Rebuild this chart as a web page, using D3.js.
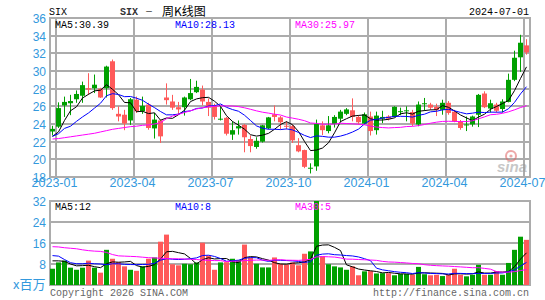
<!DOCTYPE html>
<html>
<head>
<meta charset="utf-8">
<script src="https://cdn.jsdelivr.net/npm/d3@7"></script>
<style>
  html, body { margin: 0; padding: 0; background: #fff; }
  svg { display: block; }
</style>
</head>
<body>
<svg id="chart" width="545" height="300"></svg>
<script>
// SIX weekly K-line, weeks 2022-12-26 .. 2024-07-01 (80 candles)
const open = [23.15, 23.7, 26.1, 26.35, 26.8, 27.2, 28.05, 28.05, 28.0, 28.05,
  31.1, 25.15, 25.05, 24.4, 26.75, 25.45, 26.2, 23.5, 24.4, 27.0,
  26.55, 25.9, 25.9, 26.8, 27.6, 27.9, 26.5, 26.1, 24.5, 24.7,
  22.8, 23.5, 23.9, 22.3, 21.4, 22.0, 23.5, 25.1, 24.75, 23.8,
  23.75, 21.6, 21.05, 19.0, 19.2, 23.85, 23.2, 24.0, 24.6, 25.15,
  25.55, 24.8, 24.05, 24.85, 23.3, 24.6, 24.85, 24.8, 25.4, 25.5,
  25.35, 23.95, 26.25, 26.2, 25.95, 25.6, 26.4, 25.4, 24.25, 23.9,
  23.95, 25.05, 27.45, 25.75, 26.2, 25.7, 26.5, 29.0, 31.55, 32.9];
const high = [23.8, 26.45, 27.1, 27.3, 27.8, 28.8, 29.75, 29.6, 28.1, 30.6,
  31.3, 26.0, 25.6, 26.95, 27.1, 27.1, 26.4, 25.25, 24.5, 28.6,
  27.3, 26.5, 27.1, 29.1, 28.9, 28.35, 26.9, 26.3, 26.0, 24.8,
  24.3, 24.4, 24.0, 22.7, 22.5, 23.9, 24.8, 26.1, 24.9, 24.3,
  23.9, 22.4, 21.1, 19.55, 24.5, 24.3, 24.9, 25.0, 25.6, 25.8,
  26.9, 25.0, 25.3, 25.4, 25.4, 25.5, 25.0, 26.0, 25.85, 26.0,
  25.6, 26.55, 26.95, 26.4, 26.3, 26.75, 26.6, 25.6, 24.45, 24.85,
  24.95, 27.4, 27.7, 26.75, 26.4, 26.8, 29.7, 32.3, 34.1, 33.6];
const low = [22.7, 23.55, 24.8, 25.0, 26.4, 26.4, 27.3, 27.5, 26.95, 27.0,
  25.6, 24.3, 23.3, 23.9, 25.25, 25.15, 23.35, 22.35, 21.85, 26.2,
  25.6, 25.1, 24.95, 26.7, 27.5, 26.1, 24.9, 24.5, 24.4, 22.7,
  22.2, 22.8, 20.8, 20.8, 21.2, 21.9, 23.4, 24.3, 23.4, 23.4,
  21.85, 20.8, 19.0, 18.4, 18.7, 22.75, 22.95, 23.6, 24.2, 25.0,
  24.3, 23.95, 23.95, 22.7, 22.8, 24.1, 24.4, 24.75, 25.0, 24.3,
  23.75, 23.75, 25.5, 25.6, 24.9, 25.05, 25.05, 24.2, 23.35, 23.2,
  23.7, 23.65, 25.8, 25.3, 25.3, 25.3, 26.45, 28.85, 29.9, 31.85];
const close = [23.45, 25.8, 26.5, 26.6, 27.4, 28.4, 27.9, 28.45, 27.0, 30.5,
  25.8, 24.85, 24.05, 26.8, 25.45, 26.05, 23.55, 24.5, 22.6, 26.7,
  25.85, 25.65, 27.0, 27.5, 28.2, 26.55, 25.85, 24.8, 24.6, 22.9,
  23.3, 23.75, 22.5, 21.5, 22.1, 23.85, 24.75, 24.8, 24.2, 23.7,
  22.15, 20.9, 19.15, 19.05, 24.0, 23.3, 23.85, 24.8, 25.4, 25.65,
  24.8, 24.2, 25.1, 23.2, 24.95, 24.8, 24.6, 25.95, 25.45, 25.55,
  24.05, 26.2, 26.35, 25.85, 25.6, 26.4, 25.25, 24.3, 23.55, 23.95,
  24.85, 27.3, 25.9, 26.35, 25.5, 26.55, 29.0, 31.5, 33.2, 32.1];
// volume, millions
const volume = [6.2, 8.6, 9.3, 6.6, 5.8, 6.6, 9.3, 6.6, 4.7, 13.4,
  10.0, 8.7, 7.1, 5.8, 5.4, 7.1, 10.0, 10.5, 16.5, 19.2,
  7.9, 7.5, 8.1, 7.9, 8.6, 16.1, 11.2, 5.8, 8.6, 8.7,
  10.0, 9.5, 15.4, 10.5, 8.1, 6.7, 6.7, 10.5, 8.0, 7.8,
  8.6, 7.5, 11.9, 12.8, 33, 10.9, 7.9, 7.1, 6.7, 5.8,
  7.1, 3.7, 5.2, 5.3, 4.4, 4.5, 4.5, 3.7, 4.2, 4.2,
  3.9, 6.9, 4.1, 3.7, 3.9, 3.4, 4.0, 6.2, 3.9, 3.3,
  3.9, 7.7, 3.9, 3.9, 5.3, 3.9, 8.4, 13.4, 18.4, 17.2];

// moving averages before enough weeks are on the chart
const ma5Head = [22.6, 23.1, 24.4, 25.5];
const ma10Head = [22.6, 22.9, 23.5, 23.75, 24.3, 24.8, 25.25, 25.8, 26.35];
const ma30Head = [22.3, 22.35, 22.45, 22.55, 22.65, 22.75, 22.85, 22.95, 23.1, 23.25,
  23.4, 23.5, 23.6, 23.7, 23.75, 23.85, 23.9, 24.0, 24.15, 24.6,
  24.9, 25.1, 25.3, 25.5, 25.7, 25.85, 25.95, 26.0, 26.05];
const vma5Head = [9.2, 9.2, 9.0, 8.0];
const vma10Head = [11.2, 11.0, 9.7, 8.5, 8.1, 8.1, 8.3, 8.1, 8.0];
const vma30Head = [14.6, 14.5, 14.2, 14.0, 13.8, 13.4, 13.1, 12.9, 12.8, 12.4,
  11.6, 11.1, 11.0, 10.9, 10.8, 10.6, 10.4, 10.3, 10.2, 10.1,
  10.0, 10.0, 9.9, 9.8, 9.7, 9.5, 9.4, 9.3, 9.3];

const quarterTicks = ['2023-01', '2023-04', '2023-07', '2023-10', '2024-01', '2024-04', '2024-07'];
const priceTicks = [18, 20, 22, 24, 26, 28, 30, 32, 34, 36];
const volTicks = [8, 16, 24, 32];
const maLabels = ['MA5:30.39', 'MA10:28.13', 'MA30:25.97'];
const vmaLabels = ['MA5:12', 'MA10:8', 'MA30:5'];

const GREEN = '#00a000', RED = '#ff5a5a', GRID = '#acacac', AXIS = '#3399dd';
const MONO = '"Liberation Mono", "DejaVu Sans Mono", monospace';
const CJK = '"Noto Sans CJK SC", sans-serif';
const maColors = ['#000000', '#0000ff', '#ff00ff'];

const svg = d3.select('#chart');
const fmt = d3.timeFormat('%Y-%m');
const weeks = d3.timeMonday.range(new Date(2022, 11, 26), new Date(2024, 6, 2));
const n = close.length;

const x = d3.scaleLinear().domain([0, n]).range([50, 530]);
const y = d3.scaleLinear().domain([18, 36]).range([177, 18]);
const yv = d3.scaleLinear().domain([0, 32]).range([285, 201]);
const cx = i => x(i) + 2.5;
const isUp = i => close[i] >= open[i];

function movingAvg(vals, len, head) {
  return vals.map((v, i) => i < len - 1 ? head[i] : d3.mean(vals.slice(i - len + 1, i + 1)));
}

svg.append('rect').attr('width', 545).attr('height', 300).attr('fill', '#fff');

const defs = svg.append('defs');
defs.append('clipPath').attr('id', 'clipMain').append('rect')
  .attr('x', 50).attr('y', 18).attr('width', 480).attr('height', 159);
defs.append('clipPath').attr('id', 'clipVol').append('rect')
  .attr('x', 50).attr('y', 201).attr('width', 480).attr('height', 84);

// ---- main panel grid
const qIdx = quarterTicks.map(q => weeks.findIndex(w => fmt(w) === q));
const grid = svg.append('g').attr('stroke', GRID).attr('stroke-width', 2);
priceTicks.forEach(t => {
  grid.append('line').attr('x1', 49).attr('x2', 531)
    .attr('y1', Math.round(y(t))).attr('y2', Math.round(y(t)));
});
qIdx.forEach(i => {
  grid.append('line').attr('x1', x(i)).attr('x2', x(i)).attr('y1', 18).attr('y2', 177);
});
[50, 530].forEach(v => grid.append('line').attr('x1', v).attr('x2', v).attr('y1', 17).attr('y2', 178));

// volume grid
volTicks.concat([0]).forEach(t => {
  grid.append('line').attr('x1', 49).attr('x2', 531)
    .attr('y1', Math.round(yv(t))).attr('y2', Math.round(yv(t)));
});
[50, 530].forEach(v => grid.append('line').attr('x1', v).attr('x2', v).attr('y1', 200).attr('y2', 286));

// ---- candles
const candles = svg.append('g').attr('clip-path', 'url(#clipMain)');
d3.range(n).forEach(i => {
  const col = isUp(i) ? GREEN : RED;
  candles.append('line')
    .attr('x1', Math.floor(x(i)) + 2.5).attr('x2', Math.floor(x(i)) + 2.5)
    .attr('y1', y(high[i])).attr('y2', y(low[i]))
    .attr('stroke', col).attr('stroke-width', 1);
  const top = y(Math.max(open[i], close[i]));
  const bot = y(Math.min(open[i], close[i]));
  candles.append('rect')
    .attr('x', x(i)).attr('width', 5)
    .attr('y', top).attr('height', Math.max(1, bot - top))
    .attr('fill', col);
});

// price MAs
const priceMAs = [movingAvg(close, 5, ma5Head), movingAvg(close, 10, ma10Head), movingAvg(close, 30, ma30Head)];
const lineP = d3.line().x((d, i) => cx(i)).y(d => y(d));
priceMAs.forEach((ma, k) => {
  candles.append('path').attr('d', lineP(ma))
    .attr('fill', 'none').attr('stroke', maColors[k]).attr('stroke-width', 1);
});

// ---- volume bars
const vol = svg.append('g').attr('clip-path', 'url(#clipVol)');
vol.selectAll('rect').data(volume).join('rect')
  .attr('x', (d, i) => x(i)).attr('width', 5)
  .attr('y', d => yv(d)).attr('height', d => yv(0) - yv(d))
  .attr('fill', (d, i) => isUp(i) ? GREEN : RED);

const volMAs = [movingAvg(volume, 5, vma5Head), movingAvg(volume, 10, vma10Head), movingAvg(volume, 30, vma30Head)];
const lineV = d3.line().x((d, i) => cx(i)).y(d => yv(d));
volMAs.forEach((ma, k) => {
  vol.append('path').attr('d', lineV(ma))
    .attr('fill', 'none').attr('stroke', maColors[k]).attr('stroke-width', 1);
});

// ---- sina watermark
const logo = svg.append('g').attr('opacity', 0.55);
logo.append('circle').attr('cx', 511).attr('cy', 156).attr('r', 5)
  .attr('fill', 'none').attr('stroke', '#e06060').attr('stroke-width', 2);
logo.append('circle').attr('cx', 511).attr('cy', 156).attr('r', 1.6).attr('fill', '#e06060');
logo.append('text').attr('x', 497).attr('y', 172)
  .style('font-family', '"Liberation Sans", Arial, sans-serif')
  .style('font-size', '15px').style('font-weight', 'bold').style('font-style', 'italic')
  .attr('fill', '#9a9a9a').text('sina');

// ---- axis labels
const axisText = svg.append('g')
  .style('font-family', '"Liberation Sans", Arial, sans-serif')
  .style('font-size', '12px').attr('fill', AXIS);
priceTicks.forEach(t => {
  axisText.append('text').attr('x', 46).attr('y', Math.round(y(t)) + 4.5)
    .attr('text-anchor', 'end').text(t);
});
quarterTicks.forEach((q, k) => {
  axisText.append('text').attr('x', x(qIdx[k]) - 1.5).attr('y', 187)
    .attr('text-anchor', 'middle').style('font-size', '12.5px').text(q);
});
volTicks.forEach(t => {
  axisText.append('text').attr('x', 46).attr('y', Math.round(yv(t)) + 4.5)
    .attr('text-anchor', 'end').text(t);
});
axisText.append('text').attr('x', 13).attr('y', 289)
  .style('font-family', CJK).style('font-size', '13px').text('x百万');

// ---- header and MA legends
const mono = svg.append('g').style('font-family', MONO).style('font-size', '10px');
mono.append('text').attr('x', 49).attr('y', 15).attr('fill', '#000').text('SIX');
mono.append('text').attr('x', 529).attr('y', 15).attr('text-anchor', 'end').attr('fill', '#000').text('2024-07-01');
mono.append('text').attr('x', 120).attr('y', 15).attr('fill', '#333').style('font-weight', 'bold').text('SIX');
svg.append('text').attr('x', 145).attr('y', 14).style('font-family', CJK).style('font-size', '8px')
  .attr('fill', '#000').text('－');
svg.append('text').attr('x', 162).attr('y', 15.5).style('font-family', CJK).style('font-size', '12px')
  .attr('fill', '#000').text('周K线图');

maLabels.forEach((s, k) => {
  mono.append('text').attr('x', 55 + 120 * k).attr('y', 28).attr('fill', maColors[k]).text(s);
});
vmaLabels.forEach((s, k) => {
  mono.append('text').attr('x', 55 + 120 * k).attr('y', 210).attr('fill', maColors[k]).text(s);
});

mono.append('text').attr('x', 50).attr('y', 296).attr('fill', '#666').text('Copyright 2026 SINA.COM');
mono.append('text').attr('x', 529).attr('y', 296).attr('text-anchor', 'end').attr('fill', '#666')
  .text('http://finance.sina.com.cn');
</script>
</body>
</html>
